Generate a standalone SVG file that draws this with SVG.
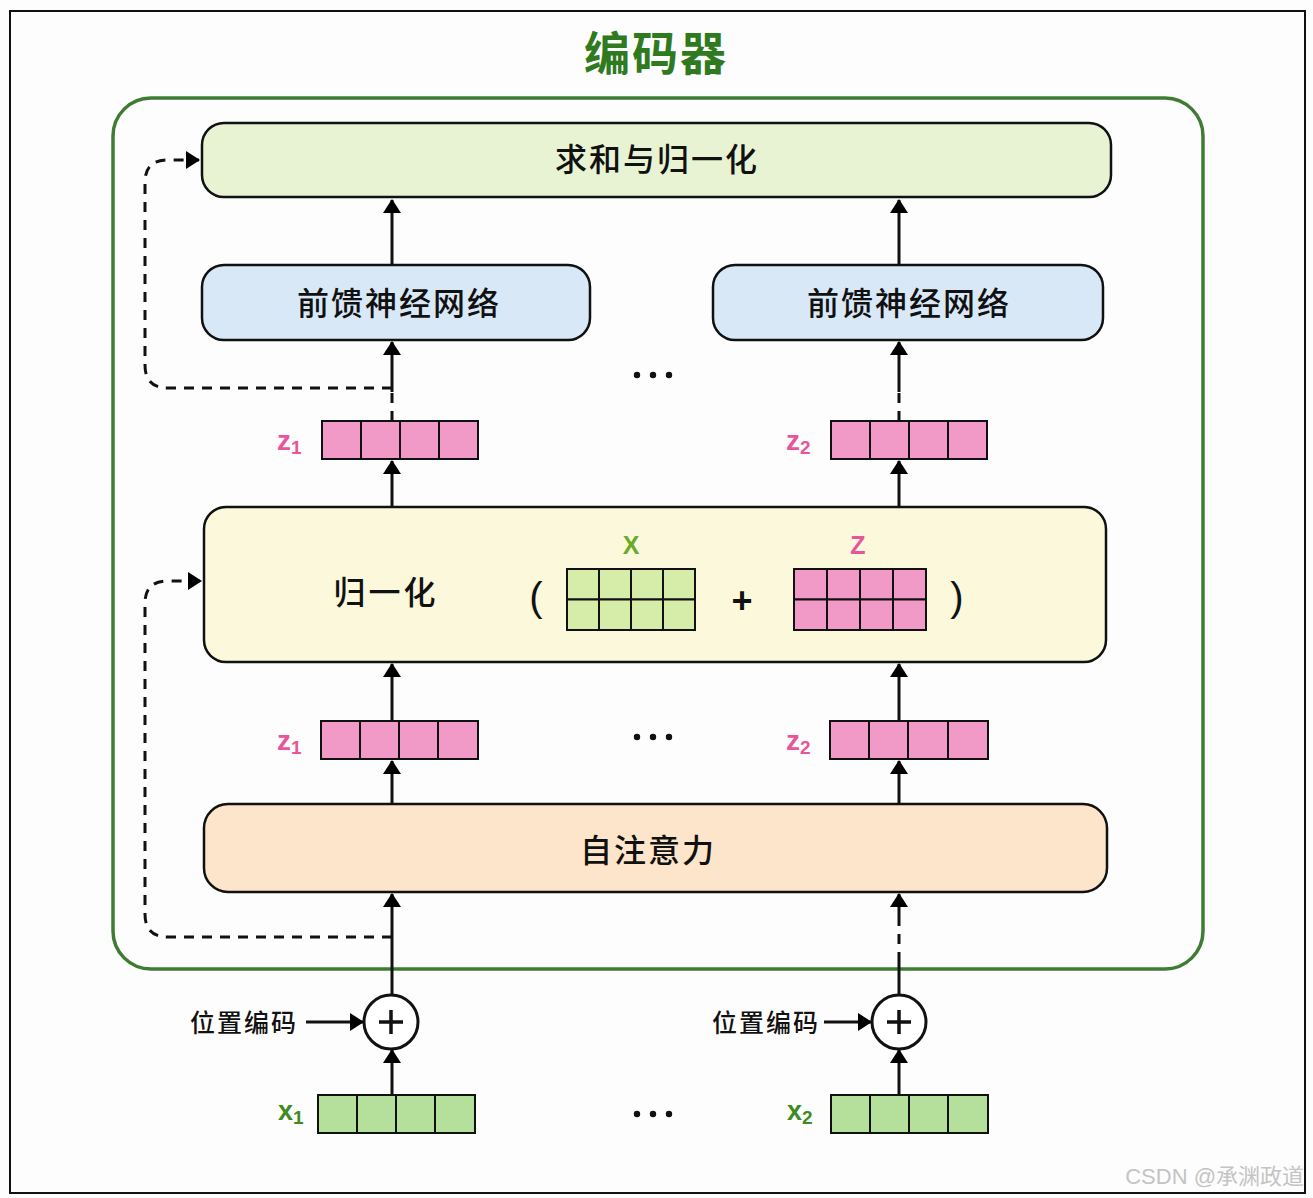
<svg xmlns="http://www.w3.org/2000/svg" width="1313" height="1198" viewBox="0 0 1313 1198">
<defs>
<marker id="ah" viewBox="0 0 14 18" refX="13" refY="9" markerWidth="14" markerHeight="18" markerUnits="userSpaceOnUse" orient="auto">
<path d="M0,0 L14,9 L0,18 Z" fill="#000"/>
</marker>
<style>
.cn{font-family:"Noto Sans CJK SC","Noto Sans",sans-serif;fill:#111;font-weight:500;}
.box{stroke:#111;stroke-width:2.5;}
.ln{stroke:#111;stroke-width:3;fill:none;}
.dash{stroke:#111;stroke-width:3;fill:none;stroke-dasharray:10,8;}
.pk{fill:#f29ac7;stroke:#111;stroke-width:2;}
.gr{fill:#b4e09b;stroke:#111;stroke-width:2;}
.gr2{fill:#d5eda9;stroke:#111;stroke-width:2;}
.lbp{font-family:"Liberation Sans",Arial,sans-serif;font-weight:bold;fill:#e8559a;}
.lbg{font-family:"Liberation Sans",Arial,sans-serif;font-weight:bold;fill:#3d8c22;}
</style>
</defs>
<rect width="1313" height="1198" fill="#fdfdfd"/>
<rect x="10" y="11" width="1295" height="1182" fill="none" stroke="#111" stroke-width="2"/>
<text x="656" y="70" text-anchor="middle" font-family="Noto Sans CJK SC,sans-serif" font-weight="bold" font-size="46" letter-spacing="2" fill="#2f7a1f">编码器</text>
<g id="encoder">
<rect x="113" y="98" width="1090" height="871" rx="38" fill="none" stroke="#3e7c34" stroke-width="3.5"/>
</g>
<g id="connectors">
<line class="ln" x1="392" y1="265" x2="392" y2="200" marker-end="url(#ah)"/>
<line class="dash" x1="392" y1="421" x2="392" y2="392"/>
<line class="ln" x1="392" y1="392" x2="392" y2="342" marker-end="url(#ah)"/>
<line class="ln" x1="392" y1="507" x2="392" y2="461" marker-end="url(#ah)"/>
<line class="ln" x1="392" y1="721" x2="392" y2="664" marker-end="url(#ah)"/>
<line class="ln" x1="392" y1="804" x2="392" y2="761" marker-end="url(#ah)"/>
<line class="ln" x1="392" y1="994" x2="392" y2="894" marker-end="url(#ah)"/>
<line class="ln" x1="392" y1="1095" x2="392" y2="1050" marker-end="url(#ah)"/>
<line class="ln" x1="306" y1="1022" x2="363" y2="1022" marker-end="url(#ah)"/>
<line class="ln" x1="899" y1="265" x2="899" y2="200" marker-end="url(#ah)"/>
<line class="dash" x1="899" y1="421" x2="899" y2="392"/>
<line class="ln" x1="899" y1="392" x2="899" y2="342" marker-end="url(#ah)"/>
<line class="ln" x1="899" y1="507" x2="899" y2="461" marker-end="url(#ah)"/>
<line class="ln" x1="899" y1="721" x2="899" y2="664" marker-end="url(#ah)"/>
<line class="ln" x1="899" y1="804" x2="899" y2="761" marker-end="url(#ah)"/>
<line class="ln" x1="899" y1="994" x2="899" y2="962"/>
<line class="dash" x1="899" y1="962" x2="899" y2="925"/>
<line class="ln" x1="899" y1="925" x2="899" y2="894" marker-end="url(#ah)"/>
<line class="ln" x1="899" y1="1095" x2="899" y2="1050" marker-end="url(#ah)"/>
<line class="ln" x1="824" y1="1022" x2="871" y2="1022" marker-end="url(#ah)"/>
<path class="dash" d="M392,388 H168 Q145,388 145,365 V182 Q145,160 168,160 H199" marker-end="url(#ah)"/>
<path class="dash" d="M392,937 H168 Q145,937 145,914 V603 Q145,581 168,581 H201" marker-end="url(#ah)"/>
</g>
<g id="sum-norm">
<rect class="box" x="202" y="123" width="909" height="74" rx="22" fill="#e8f3d4"/>
<text class="cn" x="657" y="171" text-anchor="middle" font-size="32" letter-spacing="2">求和与归一化</text>
</g>
<g id="ffn1">
<rect class="box" x="202" y="265" width="388" height="75" rx="22" fill="#d9e8f7"/>
<text class="cn" x="399" y="315" text-anchor="middle" font-size="32" letter-spacing="2">前馈神经网络</text>
</g>
<g id="ffn2">
<rect class="box" x="713" y="265" width="390" height="75" rx="22" fill="#d9e8f7"/>
<text class="cn" x="909" y="315" text-anchor="middle" font-size="32" letter-spacing="2">前馈神经网络</text>
</g>
<g id="dots">
<circle cx="637" cy="375" r="3.2" fill="#111"/><circle cx="653" cy="375" r="3.2" fill="#111"/><circle cx="669" cy="375" r="3.2" fill="#111"/>
<circle cx="637" cy="737" r="3.2" fill="#111"/><circle cx="653" cy="737" r="3.2" fill="#111"/><circle cx="669" cy="737" r="3.2" fill="#111"/>
<circle cx="637" cy="1114" r="3.2" fill="#111"/><circle cx="653" cy="1114" r="3.2" fill="#111"/><circle cx="669" cy="1114" r="3.2" fill="#111"/>
</g>
<g id="z1-top">
<text class="lbp" x="277" y="450" font-size="28">z<tspan font-size="19" dy="4">1</tspan></text>
<rect class="pk" x="322" y="421" width="39" height="38"/><rect class="pk" x="361" y="421" width="39" height="38"/><rect class="pk" x="400" y="421" width="39" height="38"/><rect class="pk" x="439" y="421" width="39" height="38"/>
</g>
<g id="z2-top">
<text class="lbp" x="786" y="450" font-size="28">z<tspan font-size="19" dy="4">2</tspan></text>
<rect class="pk" x="831" y="421" width="39" height="38"/><rect class="pk" x="870" y="421" width="39" height="38"/><rect class="pk" x="909" y="421" width="39" height="38"/><rect class="pk" x="948" y="421" width="39" height="38"/>
</g>
<g id="norm">
<rect class="box" x="204" y="507" width="902" height="155" rx="22" fill="#fcf8db"/>
<text class="cn" x="386" y="604" text-anchor="middle" font-size="32" letter-spacing="3">归一化</text>
<text x="536" y="611" text-anchor="middle" font-family="Liberation Sans,sans-serif" font-size="40" fill="#111">(</text>
<text x="957" y="611" text-anchor="middle" font-family="Liberation Sans,sans-serif" font-size="40" fill="#111">)</text>
<text x="742" y="613" text-anchor="middle" font-family="Liberation Sans,sans-serif" font-weight="bold" font-size="36" fill="#111">+</text>
<text x="631" y="554" text-anchor="middle" font-family="Liberation Sans,sans-serif" font-weight="bold" font-size="25" fill="#6aaa2a">X</text>
<text x="858" y="554" text-anchor="middle" font-family="Liberation Sans,sans-serif" font-weight="bold" font-size="25" fill="#e8559a">Z</text>
<g>
<rect class="gr2" x="567" y="569" width="32" height="30.5"/><rect class="gr2" x="599" y="569" width="32" height="30.5"/><rect class="gr2" x="631" y="569" width="32" height="30.5"/><rect class="gr2" x="663" y="569" width="32" height="30.5"/>
<rect class="gr2" x="567" y="599.5" width="32" height="30.5"/><rect class="gr2" x="599" y="599.5" width="32" height="30.5"/><rect class="gr2" x="631" y="599.5" width="32" height="30.5"/><rect class="gr2" x="663" y="599.5" width="32" height="30.5"/>
</g>
<g>
<rect class="pk" x="794" y="569" width="33" height="30.5"/><rect class="pk" x="827" y="569" width="33" height="30.5"/><rect class="pk" x="860" y="569" width="33" height="30.5"/><rect class="pk" x="893" y="569" width="33" height="30.5"/>
<rect class="pk" x="794" y="599.5" width="33" height="30.5"/><rect class="pk" x="827" y="599.5" width="33" height="30.5"/><rect class="pk" x="860" y="599.5" width="33" height="30.5"/><rect class="pk" x="893" y="599.5" width="33" height="30.5"/>
</g>
</g>
<g id="z1-bottom">
<text class="lbp" x="277" y="750" font-size="28">z<tspan font-size="19" dy="4">1</tspan></text>
<rect class="pk" x="321" y="721" width="39" height="38"/><rect class="pk" x="360" y="721" width="39" height="38"/><rect class="pk" x="399" y="721" width="39" height="38"/><rect class="pk" x="438" y="721" width="40" height="38"/>
</g>
<g id="z2-bottom">
<text class="lbp" x="786" y="750" font-size="28">z<tspan font-size="19" dy="4">2</tspan></text>
<rect class="pk" x="830" y="721" width="39" height="38"/><rect class="pk" x="869" y="721" width="39" height="38"/><rect class="pk" x="908" y="721" width="40" height="38"/><rect class="pk" x="948" y="721" width="40" height="38"/>
</g>
<g id="self-attention">
<rect class="box" x="204" y="804" width="903" height="88" rx="24" fill="#fde5cb"/>
<text class="cn" x="648" y="862" text-anchor="middle" font-size="32" letter-spacing="2">自注意力</text>
</g>
<g id="add1">
<circle cx="391" cy="1022" r="27" fill="#fff" stroke="#111" stroke-width="3"/>
<path d="M391,1010 V1034 M379,1022 H403" stroke="#111" stroke-width="3.5"/>
<text class="cn" x="244" y="1032" text-anchor="middle" font-size="25" letter-spacing="2">位置编码</text>
</g>
<g id="add2">
<circle cx="899" cy="1022" r="27" fill="#fff" stroke="#111" stroke-width="3"/>
<path d="M899,1010 V1034 M887,1022 H911" stroke="#111" stroke-width="3.5"/>
<text class="cn" x="766" y="1032" text-anchor="middle" font-size="25" letter-spacing="2">位置编码</text>
</g>
<g id="x1">
<text class="lbg" x="278" y="1120" font-size="27">x<tspan font-size="19" dy="4">1</tspan></text>
<rect class="gr" x="318" y="1095" width="39" height="38"/><rect class="gr" x="357" y="1095" width="39" height="38"/><rect class="gr" x="396" y="1095" width="39" height="38"/><rect class="gr" x="435" y="1095" width="40" height="38"/>
</g>
<g id="x2">
<text class="lbg" x="787" y="1120" font-size="27">x<tspan font-size="19" dy="4">2</tspan></text>
<rect class="gr" x="831" y="1095" width="39" height="38"/><rect class="gr" x="870" y="1095" width="39" height="38"/><rect class="gr" x="909" y="1095" width="39" height="38"/><rect class="gr" x="948" y="1095" width="40" height="38"/>
</g>
<text x="1304" y="1184" text-anchor="end" font-family="Liberation Sans,Noto Sans CJK SC,sans-serif" font-size="22" fill="#c4c4c4">CSDN @承渊政道</text>
</svg>
